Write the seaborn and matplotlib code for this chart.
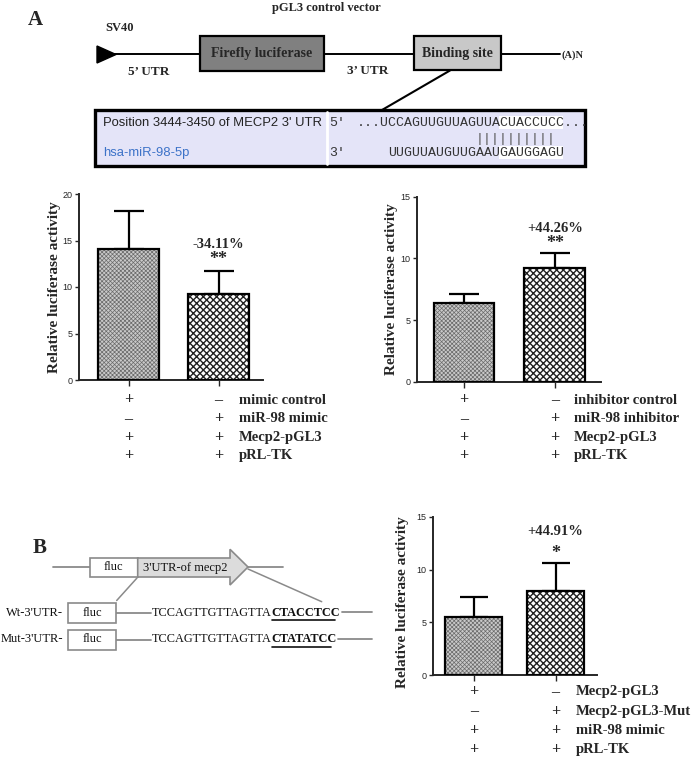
import numpy as np
import pandas as pd
import matplotlib
matplotlib.use('Agg')
import matplotlib.pyplot as plt
import seaborn as sns
from matplotlib.patches import Rectangle, Polygon
from matplotlib.lines import Line2D
from matplotlib.transforms import blended_transform_factory

# ---------------- data ----------------
a1_groups = ['mimic control', 'miR-98 mimic']
a1_mean = [14.1, 9.3]
a1_sd = [4.1, 2.45]
a1_rows = ['mimic control', 'miR-98 mimic', 'Mecp2-pGL3', 'pRL-TK']
a1_signs = [['+', '–'], ['–', '+'], ['+', '+'], ['+', '+']]
a1_note = ['-34.11%', '**']
a1_yticks = [0, 5, 10, 15, 20]

a2_groups = ['inhibitor control', 'miR-98 inhibitor']
a2_mean = [6.35, 9.2]
a2_sd = [0.75, 1.2]
a2_rows = ['inhibitor control', 'miR-98 inhibitor', 'Mecp2-pGL3', 'pRL-TK']
a2_signs = [['+', '–'], ['–', '+'], ['+', '+'], ['+', '+']]
a2_note = ['+44.26%', '**']
a2_yticks = [0, 5, 10, 15]

b_groups = ['Mecp2-pGL3', 'Mecp2-pGL3-Mut']
b_mean = [5.5, 8.0]
b_sd = [1.9, 2.6]
b_rows = ['Mecp2-pGL3', 'Mecp2-pGL3-Mut', 'miR-98 mimic', 'pRL-TK']
b_signs = [['+', '–'], ['–', '+'], ['+', '+'], ['+', '+']]
b_note = ['+44.91%', '*']
b_yticks = [0, 5, 10, 15]

ylabel_text = 'Relative luciferase activity'

# ---------------- style ----------------
sns.set_style('ticks')
plt.rcParams['font.family'] = ['Liberation Serif', 'DejaVu Serif']
plt.rcParams['hatch.linewidth'] = 0.6

W, H = 697, 759
fig = plt.figure(figsize=(W / 100, H / 100), dpi=100)
ax0 = fig.add_axes([0, 0, 1, 1])
ax0.set_xlim(0, W)
ax0.set_ylim(H, 0)
ax0.axis('off')

SERIF = 'Liberation Serif'
SANS = 'Liberation Sans'
MONO = 'Liberation Mono'


def px_rect(x0, y0, x1, y1):
    return [x0 / W, 1 - y1 / H, (x1 - x0) / W, (y1 - y0) / H]


def bar_panel(rect, groups, means, sds, ymax, yticks, width, xlim,
              note, note_y, star_y, rows, signs, row_y, text_x,
              ylab_x, ylab_y, cap):
    ax = fig.add_axes(px_rect(*rect))
    df = pd.DataFrame({'group': groups, 'value': means})
    sns.barplot(data=df, x='group', y='value', ax=ax, width=width,
                color='white', edgecolor='black', linewidth=1.6,
                errorbar=None, saturation=1)
    styles = [dict(fc='#c9c9c9', hatch='xxxxxxxx', hc='#6a6a6a', hlw=0.5),
              dict(fc='white', hatch='xxxxx', hc='#222222', hlw=1.0)]
    bars = list(ax.patches)
    for p, st in zip(bars, styles):
        p.set_facecolor(st['fc'])
        p.set_hatch(st['hatch'])
        p.set_edgecolor(st['hc'])
        p.set_linewidth(0)
        if hasattr(p, 'set_hatch_linewidth'):
            p.set_hatch_linewidth(st['hlw'])
        p.set_zorder(3)
        ax.add_patch(Rectangle(p.get_xy(), p.get_width(), p.get_height(),
                               fc='none', ec='black', lw=1.6, zorder=4))
    ax.errorbar(x=np.arange(len(groups)), y=means,
                yerr=[np.zeros(len(sds)), sds], fmt='none',
                ecolor='black', elinewidth=1.6, capsize=cap, capthick=1.6,
                zorder=2)
    ax.set_ylim(0, ymax)
    ax.set_xlim(*xlim)
    ax.set_yticks(yticks)
    ax.set_xlabel('')
    ax.set_ylabel(ylabel_text, fontsize=11, fontweight='bold', family=SERIF)
    ax.yaxis.set_label_coords(ylab_x, ylab_y)
    sns.despine(ax=ax)
    for s in ['left', 'bottom']:
        ax.spines[s].set_linewidth(1.4)
    ax.tick_params(axis='y', length=3, width=1, labelsize=6.5, pad=1.5)
    ax.tick_params(axis='x', length=4, width=1, labelbottom=False)
    for lab in ax.get_yticklabels():
        lab.set_family([SANS, 'DejaVu Sans'])
    ax.set_facecolor('none')
    tr = blended_transform_factory(ax.transData, ax0.transData)
    ax0.text(1, note_y, note[0], transform=tr, ha='center', va='center',
             fontsize=10.5, fontweight='bold', family=SERIF)
    ax0.text(1, star_y + 2, note[1], transform=tr, ha='center', va='center',
             fontsize=13, fontweight='bold', family=SERIF)
    for i, (lab, sg) in enumerate(zip(rows, signs)):
        for j, s in enumerate(sg):
            ax0.text(j, row_y[i], s, transform=tr, ha='center', va='center',
                     fontsize=11.5, fontweight='bold', family=SERIF)
        ax0.text(text_x, row_y[i], lab, ha='left', va='center',
                 fontsize=10.5, fontweight='bold', family=SERIF)
    return ax


# ---------------- bar panels ----------------
bar_panel((79, 194, 263, 380), a1_groups, a1_mean, a1_sd, 20, a1_yticks,
          0.68, (-0.55, 1.494), a1_note, 245, 258, a1_rows, a1_signs,
          [400, 419, 438, 456], 239, -0.098, 0.5, 11)
bar_panel((417, 196.7, 601, 381.7), a2_groups, a2_mean, a2_sd, 15, a2_yticks,
          0.67, (-0.52, 1.51), a2_note, 228.5, 242, a2_rows, a2_signs,
          [400, 419, 438, 456], 574, -0.103, 0.5, 11)
bar_panel((432.7, 516.7, 597, 675.3), b_groups, b_mean, b_sd, 15, b_yticks,
          0.695, (-0.5, 1.506), b_note, 531.7, 551.5, b_rows, b_signs,
          [692, 711.5, 731, 750], 576, -0.144, 0.46, 10)

# ---------------- panel A diagram ----------------
bold = dict(family=SERIF, fontweight='bold', zorder=5)
ax0.text(28, 20, 'A', fontsize=15, ha='left', va='center', **bold)
ax0.text(40, 548, 'B', fontsize=15, ha='center', va='center', **bold)
ax0.text(326, 8, 'pGL3 control vector', fontsize=9, ha='center', va='center', **bold)
ax0.text(105, 28, 'SV40', fontsize=9, ha='left', va='center', **bold)
ax0.add_line(Line2D([112, 560], [54, 54], color='black', lw=1.4, zorder=1))
ax0.add_patch(Polygon([(97, 46), (97, 63), (116, 54.5)], closed=True,
                      fc='black', ec='black', zorder=2))
ax0.add_patch(Rectangle((200, 36), 124, 35, fc='#808080', ec='black', lw=1.6, zorder=2))
ax0.text(262, 54, 'Firefly luciferase', fontsize=10, ha='center', va='center', **bold)
ax0.add_patch(Rectangle((414, 36), 87, 34, fc='#c8c8c8', ec='black', lw=1.6, zorder=2))
ax0.text(457.5, 53, 'Binding site', fontsize=10, ha='center', va='center', **bold)
ax0.text(562, 55, '(A)N', fontsize=7.5, ha='left', va='center', **bold)
ax0.text(149, 72, '5\u2019 UTR', fontsize=9.5, ha='center', va='center', **bold)
ax0.text(368, 71, '3\u2019 UTR', fontsize=9.5, ha='center', va='center', **bold)
ax0.add_line(Line2D([450, 382], [70.5, 110], color='black', lw=1.5, zorder=1))

# sequence box
ax0.add_patch(Rectangle((95, 110), 490, 56, fc='#e4e4f8', ec='black', lw=2.4, zorder=2))
ax0.add_line(Line2D([326.7, 326.7], [112, 164], color='white', lw=2, zorder=3))
cw = 0.6 * 9.5 * 100 / 72
s0 = 356.7
ax0.add_patch(Rectangle((s0 + 18 * cw, 116), 8 * cw, 13, fc='white', ec='none', zorder=3))
ax0.add_patch(Rectangle((s0 + 18 * cw, 146), 8 * cw, 13, fc='white', ec='none', zorder=3))
ax0.text(102.7, 122.7, 'Position 3444-3450 of MECP2 3\' UTR', fontsize=9.4,
         family=SANS, color='#222222', ha='left', va='center', zorder=4)
ax0.text(102.7, 152.7, 'hsa-miR-98-5p', fontsize=9.4, family=SANS,
         color='#3c72c8', ha='left', va='center', zorder=4)
mono = dict(family=MONO, fontsize=9.5, color='#333333', ha='left', va='center', zorder=4)
ax0.text(329, 122.7, "5'", **mono)
ax0.text(329, 152.5, "3'", **mono)
seq_top = ax0.text(s0, 122.7, '...UCCAGUUGUUAGUUACUACCUCC...', **mono)
seq_top.set_clip_path(Rectangle((95, 110), 489, 56, transform=ax0.transData))
ax0.text(s0 + 15 * cw, 139, '||||||||||', family=MONO, fontsize=9.5,
         color='#555555', ha='left', va='center', zorder=4)
ax0.text(s0 + 4 * cw, 152.5, 'UUGUUAUGUUGAAUGAUGGAGU', **mono)

# ---------------- panel B diagram ----------------
g = '#8a8a8a'
reg = dict(family=SERIF, fontsize=9, color='#111111', va='center', zorder=4)
ax0.add_line(Line2D([53, 90], [567, 567], color=g, lw=1.3, zorder=1))
ax0.add_patch(Rectangle((90, 558), 47.7, 19, fc='white', ec=g, lw=1.2, zorder=2))
ax0.text(113.8, 567.5, 'fluc', ha='center', **reg)
ax0.add_patch(Polygon([(137.7, 558), (230, 558), (230, 549.3), (248, 567),
                       (230, 585), (230, 577), (137.7, 577)], closed=True,
                      fc='#dcdcdc', ec=g, lw=1.2, zorder=2))
ax0.text(185, 567.5, '3\'UTR-of mecp2', ha='center', **reg)
ax0.add_line(Line2D([248, 283], [567, 567], color=g, lw=1.3, zorder=1))
ax0.add_line(Line2D([137, 116.7], [578, 600.5], color=g, lw=1.1, zorder=1))
ax0.add_line(Line2D([248, 321.7], [569, 601.7], color=g, lw=1.1, zorder=1))

fig.canvas.draw()
renderer = fig.canvas.get_renderer()
inv = ax0.transData.inverted()
for yc, lab, seq_a, seq_b in [(613, 'Wt-3\'UTR-', 'TCCAGTTGTTAGTTA', 'CTACCTCC'),
                              (639.5, 'Mut-3\'UTR-', 'TCCAGTTGTTAGTTA', 'CTATATCC')]:
    ax0.text(63, yc, lab, ha='right', **reg)
    ax0.add_patch(Rectangle((68, yc - 10), 48, 20, fc='white', ec=g, lw=1.2, zorder=2))
    ax0.text(92, yc, 'fluc', ha='center', **reg)
    ax0.add_line(Line2D([116, 151], [yc, yc], color=g, lw=1.3, zorder=1))
    t1 = ax0.text(152, yc, seq_a, ha='left', family=SERIF, fontsize=8.8,
                  color='#111111', va='center', zorder=4)
    bb = t1.get_window_extent(renderer)
    x1 = inv.transform((bb.x1, bb.y0))[0]
    t2 = ax0.text(x1, yc, seq_b, ha='left', family=SERIF, fontsize=8.8,
                  fontweight='bold', color='#111111', va='center', zorder=4)
    bb2 = t2.get_window_extent(renderer)
    x2 = inv.transform((bb2.x1, bb2.y0))[0]
    ax0.add_line(Line2D([x1, x2 - 6], [yc + 7, yc + 7], color='#111111', lw=1.2, zorder=4))
    ax0.add_line(Line2D([x2 + 1, 372], [yc - 1, yc - 1], color=g, lw=1.3, zorder=1))

fig.savefig('out.png', dpi=100)
